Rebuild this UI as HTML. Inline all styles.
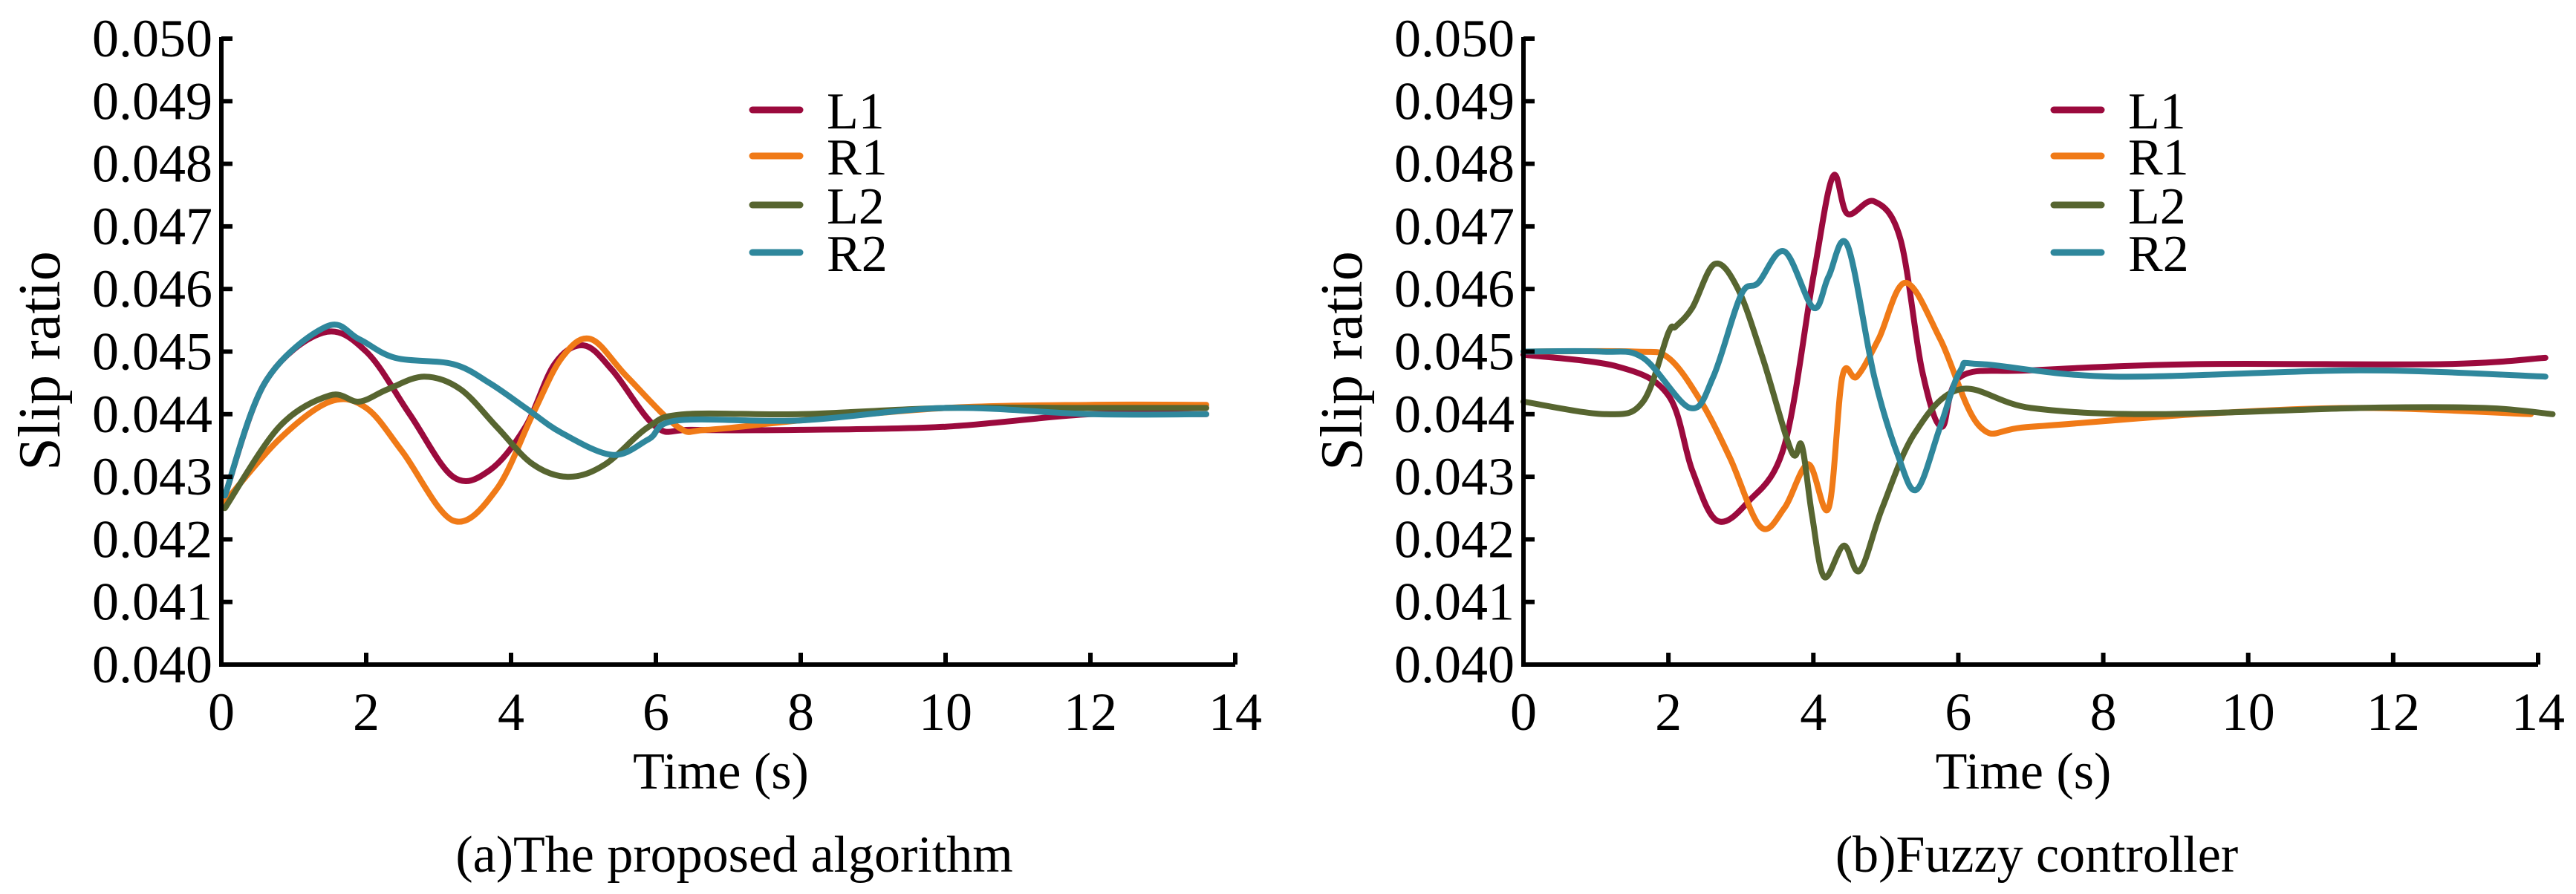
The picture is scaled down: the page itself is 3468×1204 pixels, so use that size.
<!DOCTYPE html>
<html><head><meta charset="utf-8"><style>
html,body{margin:0;padding:0;background:#fff}
svg{display:block}
text{font-family:"Liberation Serif",serif;fill:#000}
</style></head><body>
<svg id="c" width="3468" height="1204" viewBox="0 0 3468 1204"></svg>
<script>
const ticksX=[0,2,4,6,8,10,12,14];
const ticksY=[0.040,0.041,0.042,0.043,0.044,0.045,0.046,0.047,0.048,0.049,0.050];
const seriesNames=["L1","R1","L2","R2"];
const colors=["#9b0a3d","#f07a17","#576530","#2f879c"];
// chart (a)
const aL1t=[0.05,0.6,1.4,2.0,2.6,3.2,3.7,4.2,4.6,5.0,5.4,6.0,6.5,8,10,12,13.6];
const aL1v=[0.0427,0.0445,0.0453,0.0450,0.0440,0.0430,0.0431,0.0438,0.0448,0.0451,0.0447,0.0438,0.04375,0.04375,0.0438,0.0440,0.0440];
const aR1t=[0.05,0.8,1.5,2.0,2.5,3.2,3.8,4.3,4.7,5.1,5.6,6.3,6.7,8,10,12,13.6];
const aR1v=[0.0426,0.0436,0.0442,0.0441,0.0434,0.0423,0.0428,0.0440,0.0449,0.0452,0.0446,0.0438,0.04375,0.0439,0.0441,0.04415,0.04415];
const aL2t=[0.05,0.8,1.5,1.9,2.3,2.8,3.3,3.8,4.3,4.8,5.3,5.9,6.4,8,10,12,13.6];
const aL2v=[0.0425,0.0438,0.0443,0.0442,0.0444,0.0446,0.0444,0.0438,0.0432,0.0430,0.0432,0.0438,0.0440,0.0440,0.0441,0.0441,0.0441];
const aR2t=[0.05,0.6,1.45,1.9,2.4,3.2,3.7,4.2,4.7,5.4,5.9,6.3,8,10,12,13.6];
const aR2v=[0.0427,0.0445,0.0454,0.0452,0.0449,0.0448,0.0445,0.0441,0.0437,0.04335,0.0436,0.0439,0.0439,0.0441,0.0440,0.0440];
// chart (b)
const bL1t=[0,1.3,2.0,2.33,2.67,3.1,3.6,4.0,4.27,4.47,4.84,5.2,5.5,5.77,6.03,7,9.3,12.7,14.1];
const bL1v=[0.04495,0.04476,0.0443,0.0431,0.0423,0.0426,0.0435,0.0462,0.0478,0.0472,0.0474,0.0468,0.0447,0.0438,0.0446,0.0447,0.0448,0.0448,0.0449];
const bR1t=[0,1.54,2.0,2.45,2.85,3.27,3.6,3.93,4.21,4.4,4.6,4.9,5.27,5.75,6.3,7,9.3,11.55,13.9];
const bR1v=[0.0450,0.0450,0.0449,0.0442,0.0433,0.0422,0.0425,0.0432,0.0425,0.0446,0.0446,0.0452,0.0461,0.0452,0.0438,0.0438,0.0440,0.0441,0.0440];
const bL2t=[0,1.14,1.65,2.0,2.1,2.33,2.64,2.96,3.3,3.7,3.84,3.98,4.15,4.42,4.64,4.95,5.4,6.03,7,8.7,11.55,13.26,14.2];
const bL2v=[0.0442,0.0440,0.0442,0.0453,0.0454,0.0457,0.0464,0.0460,0.0449,0.0434,0.0435,0.0424,0.0414,0.0419,0.0415,0.0425,0.0437,0.0444,0.0441,0.0440,0.0441,0.0441,0.0440];
const bR2t=[0,1.08,1.65,2.3,2.62,3.0,3.24,3.6,4.0,4.21,4.47,4.84,5.18,5.43,5.75,6.03,6.32,8.14,11.55,14.1];
const bR2v=[0.0450,0.0450,0.0449,0.0441,0.0446,0.0459,0.0461,0.0466,0.0457,0.0462,0.0467,0.0446,0.0433,0.0428,0.0438,0.0447,0.0448,0.0446,0.0447,0.0446];

const NS="http://www.w3.org/2000/svg";
const svg=document.getElementById("c");
function mk(tag,attrs,parent){const e=document.createElementNS(NS,tag);for(const k in attrs)e.setAttribute(k,attrs[k]);(parent||svg).appendChild(e);return e;}
function path(pts){let d="M"+pts[0][0]+","+pts[0][1];for(let i=0;i<pts.length-1;i++){const p0=pts[Math.max(0,i-1)],p1=pts[i],p2=pts[i+1],p3=pts[Math.min(pts.length-1,i+2)];const c1=[p1[0]+(p2[0]-p0[0])/6,p1[1]+(p2[1]-p0[1])/6],c2=[p2[0]-(p3[0]-p1[0])/6,p2[1]-(p3[1]-p1[1])/6];d+=" C"+c1[0].toFixed(1)+","+c1[1].toFixed(1)+" "+c2[0].toFixed(1)+","+c2[1].toFixed(1)+" "+p2[0].toFixed(1)+","+p2[1].toFixed(1);}return d;}

function chart(id,x0,x1,legX,caption,series){
  const y0=895,y1=52;
  const g=mk("g",{});
  
  
  const sx=t=>x0+(t-0)/14*(x1-x0);
  const sy=v=>y0-(v-0.040)/0.010*(y0-y1);
  series.forEach((s,i)=>{
    const p=mk("path",{d:path(s[0].map((t,j)=>[sx(t),sy(s[1][j])])),fill:"none",stroke:colors[i],"stroke-width":8,"stroke-linejoin":"round","stroke-linecap":"round"},g);
    
    
  });
  const ax=mk("path",{d:`M${x0},${y1-2}V${y0}H${x1}`,fill:"none",stroke:"#000","stroke-width":6},g);
  
  
  ticksY.forEach(v=>{
    mk("line",{x1:x0,x2:x0+15,y1:sy(v),y2:sy(v),stroke:"#000","stroke-width":6},g);
    const t=mk("text",{x:x0-12,y:sy(v)+24,"text-anchor":"end","font-size":72},g);
    t.textContent=v.toFixed(3);
    
    
  });
  ticksX.forEach(v=>{
    mk("line",{x1:sx(v),x2:sx(v),y1:y0,y2:y0-16,stroke:"#000","stroke-width":6},g);
    const t=mk("text",{x:sx(v),y:983,"text-anchor":"middle","font-size":72},g);
    t.textContent=v;
    
    
  });
  const yl=mk("text",{x:0,y:0,transform:`translate(${x0-218},486) rotate(-90)`,"text-anchor":"middle","font-size":80},g);
  yl.textContent="Slip ratio";
  
  
  const xl=mk("text",{x:(x0+x1)/2-10,y:1062,"text-anchor":"middle","font-size":70},g);
  xl.textContent="Time (s)";
  
  
  const cp=mk("text",{x:(x0+x1)/2+8,y:1174,"text-anchor":"middle","font-size":70},g);
  cp.textContent=caption;
  
  
  const rows=[148,210,276,340];
  seriesNames.forEach((n,i)=>{
    const le=mk("g",{},g);
    
    
    mk("line",{x1:legX,x2:legX+64,y1:rows[i],y2:rows[i],stroke:colors[i],"stroke-width":9,"stroke-linecap":"round"},le);
    const t=mk("text",{x:legX+100,y:rows[i]+25,"font-size":70},le);
    t.textContent=n;
  });
}
chart("chart-proposed-algorithm",298,1663,1013,"(a)The proposed algorithm",
  [[aL1t,aL1v],[aR1t,aR1v],[aL2t,aL2v],[aR2t,aR2v]]);
chart("chart-fuzzy-controller",2051,3417,2765,"(b)Fuzzy controller",
  [[bL1t,bL1v],[bR1t,bR1v],[bL2t,bL2v],[bR2t,bR2v]]);
</script>
</body></html>
